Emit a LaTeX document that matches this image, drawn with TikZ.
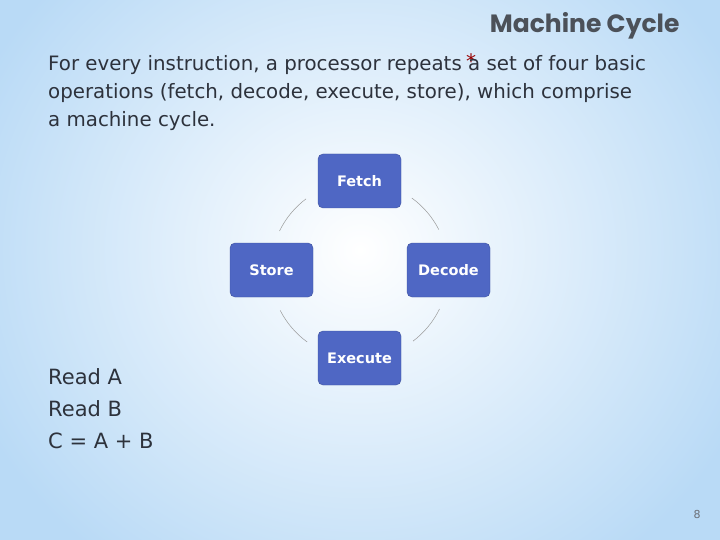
\documentclass[tikz,border=0pt]{standalone}
\usepackage{fontspec}
\setmainfont{DejaVu Sans}
\newfontfamily\titlefont{Poppins}
\usetikzlibrary{calc}
\definecolor{boxblue}{RGB}{79,103,196}
\definecolor{txt}{RGB}{45,50,60}
\definecolor{bgblue}{RGB}{185,218,246}
\tikzset{cyclebox/.style={draw=boxblue!80!black,line width=0.4pt,fill=boxblue,rounded corners=5pt,minimum width=83pt,minimum height=54pt,text=white,font=\fontsize{14.5}{16}\selectfont\bfseries,inner sep=0pt},
arcline/.style={draw=gray!80,line width=0.5pt}}
\begin{document}
\begin{tikzpicture}[x=1pt,y=-1pt]
\useasboundingbox (0,0) rectangle (720,540);
\fill[bgblue] (0,0) rectangle (720,540);
\shade[inner color=white,outer color=bgblue] (-60,-140) rectangle (780,640);
\node[anchor=base east,text=txt!85,font=\titlefont\fontsize{25}{28}\selectfont\bfseries] (title) at (683,33) {Machine Cycle};
\node[anchor=north east,text=red!60!black,font=\fontsize{20}{20}\selectfont,inner sep=0pt] (star) at ([xshift=-10pt,yshift=-20pt]title.base west) {*};
\node[anchor=north west,align=left,text=txt,font=\fontsize{19.8}{28}\selectfont,inner sep=0pt] (para) at (48,55) {For every instruction, a processor repeats a set of four basic\\operations (fetch, decode, execute, store), which comprise\\a machine cycle.};
\node[cyclebox] (fetch) at (359.5,181) {Fetch};
\node[cyclebox] (decode) at (448.5,270) {Decode};
\node[cyclebox] (execute) at (359.5,358) {Execute};
\node[cyclebox] (store) at (271.5,270) {Store};
\coordinate (c) at (359.5,270);
\foreach \a in {27,127,207,307}{
 \draw[arcline] ($(c)+(-\a:89)$) arc[start angle=-\a,end angle=-\a-27,radius=89];}
\node[anchor=north west,align=left,text=txt,font=\fontsize{21}{32}\selectfont,inner sep=0pt] (code) at (48,368) {Read A\\Read B\\C = A + B};
\node[text=txt!70,font=\fontsize{11}{12}\selectfont] (num) at (697,514) {8};
\end{tikzpicture}
\end{document}
